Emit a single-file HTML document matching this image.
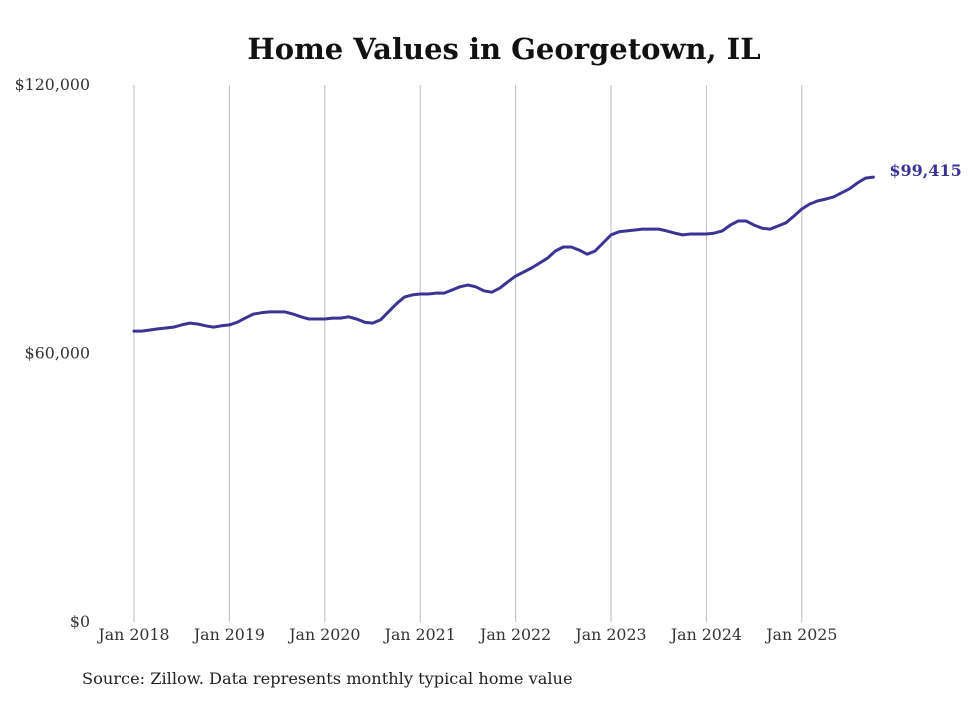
<!DOCTYPE html>
<html><head><meta charset="utf-8"><style>
body{margin:0;background:#fff;width:980px;height:699px;overflow:hidden;font-family:"DejaVu Serif",serif;}
</style></head><body>
<svg width="980" height="699" xmlns="http://www.w3.org/2000/svg">
<text x="504" y="59" text-anchor="middle" font-family="DejaVu Serif, serif" font-weight="bold" font-size="29" fill="#111">Home Values in Georgetown, IL</text>
<g id="grid"></g>
<g id="yaxis"></g>
<g id="xaxis"></g>
<g id="series"></g>
<text x="82" y="684" font-family="DejaVu Serif, serif" font-size="16.2" fill="#222">Source: Zillow. Data represents monthly typical home value</text>
</svg>
<script>
const yTicks=[0,60000,120000];
const yTickLabels=["$0","$60,000","$120,000"];
const xTickYears=[2018,2019,2020,2021,2022,2023,2024,2025];
const xTickLabels=["Jan 2018","Jan 2019","Jan 2020","Jan 2021","Jan 2022","Jan 2023","Jan 2024","Jan 2025"];
const startYear=2018;
const values=[65.0,65.0,65.25,65.5,65.7,65.9,66.4,66.8,66.6,66.2,65.9,66.2,66.4,67.0,67.9,68.8,69.1,69.3,69.3,69.3,68.8,68.2,67.7,67.7,67.7,67.9,67.9,68.2,67.7,67.0,66.8,67.5,69.3,71.1,72.6,73.1,73.3,73.3,73.5,73.5,74.2,74.9,75.3,74.9,74.0,73.7,74.6,76.0,77.3,78.2,79.1,80.2,81.3,82.9,83.8,83.8,83.1,82.2,82.9,84.7,86.5,87.2,87.4,87.6,87.8,87.8,87.8,87.4,86.9,86.5,86.7,86.7,86.7,86.9,87.4,88.7,89.6,89.6,88.7,88.0,87.8,88.5,89.2,90.7,92.3,93.4,94.1,94.5,95.0,95.9,96.8,98.1,99.2,99.415].map(v=>v*1000);
const lastLabel="$99,415";
const NS="http://www.w3.org/2000/svg";
const x0=134,pxYear=95.4,yTop=85,yBot=622,yMax=120000;
const xs=m=>x0+m*pxYear/12;
const ys=v=>yBot-(v/yMax)*(yBot-yTop);
function mk(t,a){const e=document.createElementNS(NS,t);for(const k in a)e.setAttribute(k,a[k]);return e;}
const grid=document.getElementById('grid'),ya=document.getElementById('yaxis'),xa=document.getElementById('xaxis'),se=document.getElementById('series');
xTickYears.forEach((yr,i)=>{
 const x=xs((yr-startYear)*12);
 const l=mk('line',{x1:x,x2:x,y1:yTop,y2:yBot,stroke:'#bdbdbd','stroke-width':1});
 
 
 grid.appendChild(l);
 const t=mk('text',{x:x,y:640,'text-anchor':'middle','font-size':15.8,fill:'#333','font-family':'DejaVu Serif, serif'});
 t.textContent=xTickLabels[i];
 
 
 xa.appendChild(t);
});
yTicks.forEach((v,i)=>{
 const t=mk('text',{x:90,y:ys(v)+5,'text-anchor':'end','font-size':15.8,fill:'#333','font-family':'DejaVu Serif, serif'});
 t.textContent=yTickLabels[i];
 
 
 ya.appendChild(t);
});
const d=values.map((v,i)=>(i?'L':'M')+xs(i).toFixed(1)+','+ys(v).toFixed(1)).join(' ');
const p=mk('path',{d:d,fill:'none',stroke:'#3b3494','stroke-width':3,'stroke-linejoin':'round','stroke-linecap':'round'});


se.appendChild(p);
const li=values.length-1;
const lt=mk('text',{x:xs(li)+16,y:ys(values[li])-1,'font-size':16,'font-weight':'bold',fill:'#3b3494','font-family':'DejaVu Serif, serif'});
lt.textContent=lastLabel;


se.appendChild(lt);
</script>
</body></html>
